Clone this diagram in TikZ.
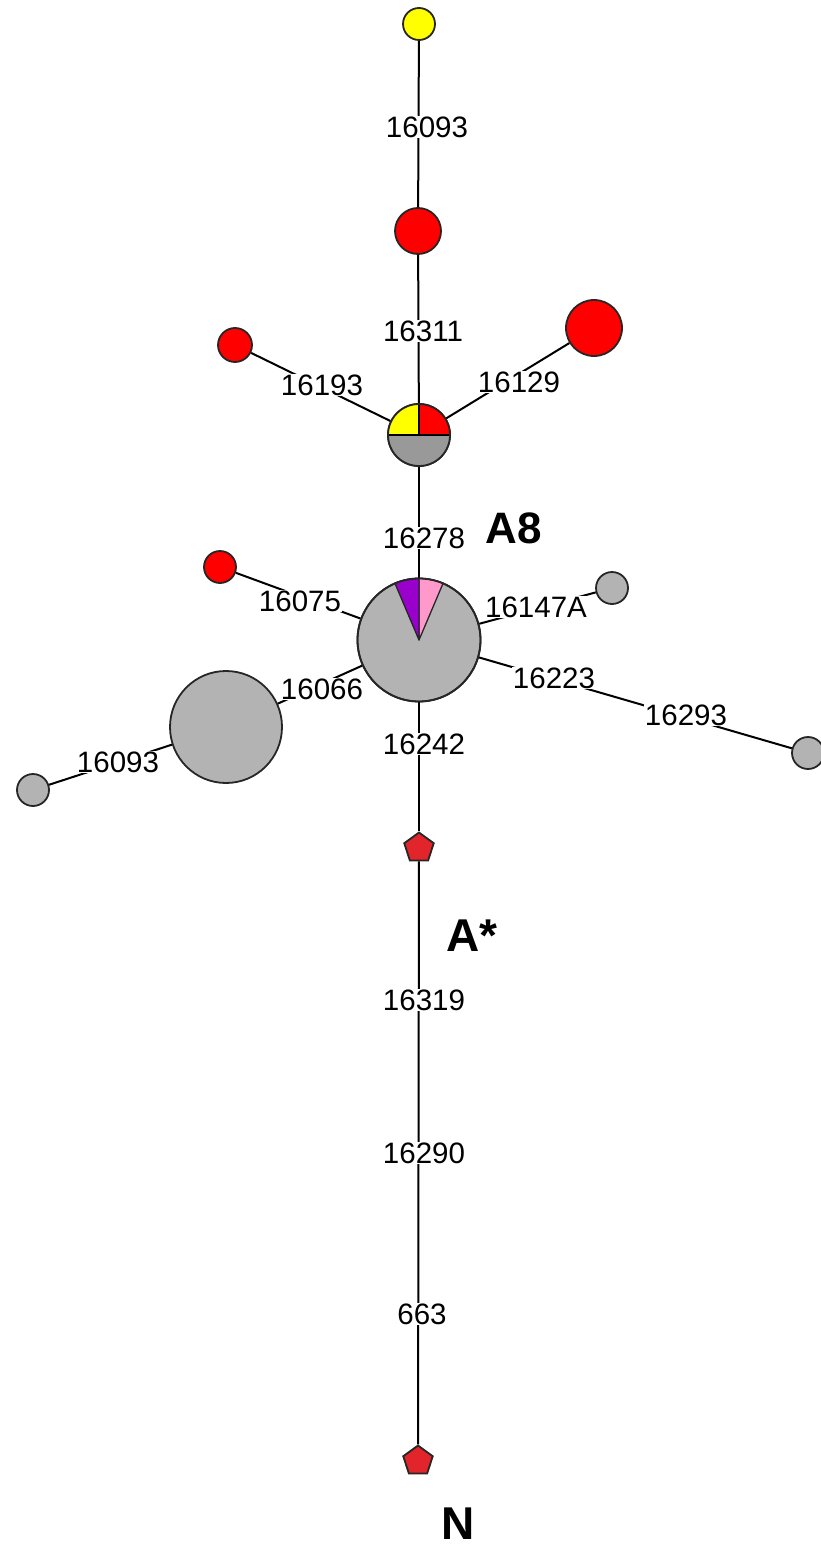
\documentclass[tikz,border=0pt]{standalone}
\usepackage{fontspec}
\setmainfont{Liberation Sans}
\usetikzlibrary{shapes.geometric}
\definecolor{outl}{HTML}{262626}
\definecolor{hred}{HTML}{FF0000}
\definecolor{hyellow}{HTML}{FFFF00}
\definecolor{hgray}{HTML}{B3B3B3}
\definecolor{hdgray}{HTML}{999999}
\definecolor{hpurple}{HTML}{9900CC}
\definecolor{hpink}{HTML}{FF99CC}
\definecolor{pentred}{HTML}{E2242B}
\begin{document}
\begin{tikzpicture}[x=1pt,y=1pt,
  hap/.style={circle, draw=outl, line width=1.8pt, inner sep=0pt, minimum size=#1},
  pent/.style={regular polygon, regular polygon sides=5, minimum size=31, inner sep=0pt, fill=pentred, draw=outl, line width=1.8pt},
  edge/.style={draw=black, line width=2pt},
  lab/.style={fill=white, inner sep=1pt, font=\fontsize{29.5}{30}\selectfont},
  big/.style={inner sep=0pt, font=\fontsize{#1}{#1}\selectfont\bfseries}]
\path[use as bounding box] (0,0) rectangle (820,-1546);
% nodes
\node[hap=32, fill=hyellow] (y1) at (419,-24) {};
\node[hap=46, fill=hred] (r1) at (418,-231) {};
\node[hap=34, fill=hred] (r2) at (235,-345) {};
\node[hap=56, fill=hred] (r3) at (594,-328) {};
\node[hap=62, fill=hdgray] (p) at (419,-435) {};
\node[hap=123, fill=hgray] (m) at (419,-640) {};
\node[hap=32, fill=hred] (r4) at (220,-567) {};
\node[hap=32, fill=hgray] (g1) at (612,-588) {};
\node[hap=112, fill=hgray] (g2) at (226,-727) {};
\node[hap=32, fill=hgray] (g3) at (33,-790) {};
\node[hap=32, fill=hgray] (g4) at (808,-753) {};
\node[pent] (n1) at (419,-848) {};
\node[pent] (n2) at (418,-1461) {};
% edges
\draw[edge] (y1) -- (r1);
\draw[edge] (r1) -- (p);
\draw[edge] (r2) -- (p);
\draw[edge] (r3) -- (p);
\draw[edge] (p) -- (m);
\draw[edge] (r4) -- (m);
\draw[edge] (g1) -- (m);
\draw[edge] (m) -- (g4);
\draw[edge] (m) -- (g2);
\draw[edge] (g2) -- (g3);
\draw[edge] (m) -- (n1);
\draw[edge] (n1) -- (n2);
% pie node
\fill[hyellow] (p.center) -- ++(180:31) arc[start angle=180, end angle=90, radius=31] -- cycle;
\fill[hred] (p.center) -- ++(90:31) arc[start angle=90, end angle=0, radius=31] -- cycle;
\fill[hdgray] (p.center) -- ++(180:31) arc[start angle=180, end angle=360, radius=31] -- cycle;
\draw[black, line width=1.8pt] (p.west) -- (p.east);
\draw[black, line width=1.8pt] (p.center) -- (p.north);
\draw[outl, line width=1.8pt] (p.center) circle[radius=31];
% main node wedges
\filldraw[fill=hpink, draw=outl, line width=1.3pt, line join=round] (m.center) -- ++(67:61.5) arc[start angle=67, end angle=90, radius=61.5] -- cycle;
\filldraw[fill=hpurple, draw=outl, line width=1.3pt, line join=round] (m.center) -- ++(90:61.5) arc[start angle=90, end angle=113, radius=61.5] -- cycle;
\draw[outl, line width=1.8pt] (m.center) circle[radius=61.5];
% labels
\node[lab] (l1) at (427,-127) {16093};
\node[lab] (l2) at (423,-331) {16311};
\node[lab] (l3) at (322,-385) {16193};
\node[lab] (l4) at (519,-382) {16129};
\node[lab] (l5) at (424,-538) {16278};
\node[lab] (l6) at (300,-601) {16075};
\node[lab] (l7) at (536,-607) {16147A};
\node[lab] (l8) at (322,-689) {16066};
\node[lab] (l9) at (554,-678) {16223};
\node[lab] (l10) at (686,-715) {16293};
\node[lab] (l11) at (424,-744) {16242};
\node[lab] (l12) at (118,-762) {16093};
\node[lab] (l13) at (424,-1000) {16319};
\node[lab] (l14) at (424,-1153) {16290};
\node[lab] (l15) at (422,-1314) {663};
\node[big=44] (a8) at (514,-528) {A8};
\node[big=46] (as) at (472,-936) {A*};
\node[big=46] (nn) at (458,-1524) {N};
\end{tikzpicture}
\end{document}
